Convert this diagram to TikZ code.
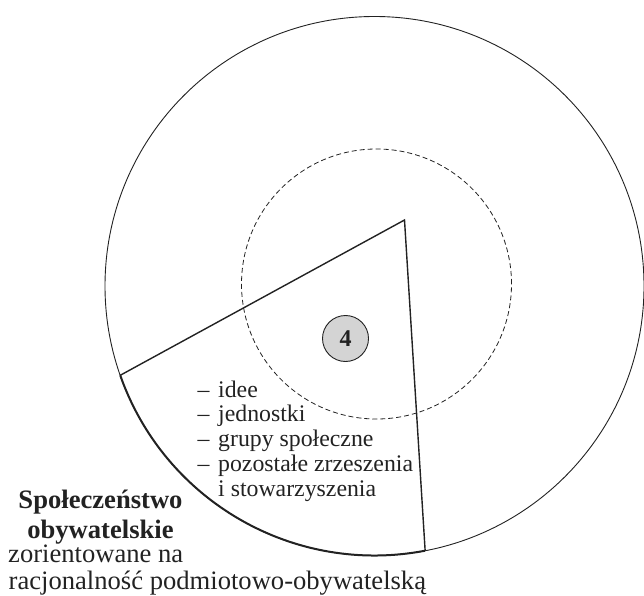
\documentclass[tikz,border=0pt]{standalone}
\usepackage{fontspec}
\setmainfont{Liberation Serif}
\usetikzlibrary{calc}
\definecolor{ink}{HTML}{222222}
\definecolor{chipgray}{HTML}{D4D4D4}
\tikzset{
  thinline/.style={draw=ink, line width=0.9pt},
  sectorline/.style={draw=ink, line width=1.4pt},
  arcline/.style={draw=ink, line width=2pt},
  dashline/.style={draw=ink, line width=0.8pt, dash pattern=on 5pt off 3pt},
  listtext/.style={inner sep=0pt, anchor=base west, font=\fontsize{23.8}{24.8}\selectfont, text=ink},
  bottomtext/.style={inner sep=0pt, font=\fontsize{26.6}{28}\selectfont, text=ink},
  chip/.style={circle, draw=ink, line width=0.9pt, fill=chipgray, minimum size=46pt, inner sep=0pt, font=\fontsize{24}{24}\selectfont\bfseries, text=ink}
}
\begin{document}
\begin{tikzpicture}[x=1pt,y=1pt]
\useasboundingbox (0,0) rectangle (644,595);
% outer circle
\coordinate (O) at (374.5,309);
\draw[thinline] (O) circle[radius=269.5];
% dashed inner circle
\coordinate (I) at (376.5,311);
\draw[dashline] (I) circle[radius=135];
% sector
\coordinate (apex) at (404.5,375);
\coordinate (L) at ($(O)+(199.35:269.5)$);
\coordinate (R) at ($(O)+(280.83:269.5)$);
\draw[sectorline, line join=miter] (L) -- (apex) -- (R);
\draw[arcline] (L) arc[start angle=199.35, end angle=280.83, radius=269.5];
% chip
\node[chip] (four) at (345.5,256.5) {4};
% list
\node[listtext] (l1) at (197.5,198) {\makebox[20.5pt][l]{–}idee};
\node[listtext] (l2) at (197.5,173.2) {\makebox[20.5pt][l]{–}jednostki};
\node[listtext] (l3) at (197.5,148.4) {\makebox[20.5pt][l]{–}grupy społeczne};
\node[listtext] (l4) at (197.5,123.6) {\makebox[20.5pt][l]{–}pozostałe zrzeszenia};
\node[listtext] (l5) at (197.5,98.8) {\hspace*{20.5pt}i stowarzyszenia};
% bottom label
\node[bottomtext, anchor=base, font=\fontsize{26.6}{28}\selectfont\bfseries] (b1) at (100.5,87) {Społeczeństwo};
\node[bottomtext, anchor=base, font=\fontsize{26.6}{28}\selectfont\bfseries] (b2) at (100.5,57) {obywatelskie};
\node[bottomtext, anchor=base west] (b3) at (8,33) {zorientowane na};
\node[bottomtext, anchor=base west] (b4) at (8.5,5.5) {racjonalność podmiotowo-obywatelską};
\end{tikzpicture}
\end{document}
